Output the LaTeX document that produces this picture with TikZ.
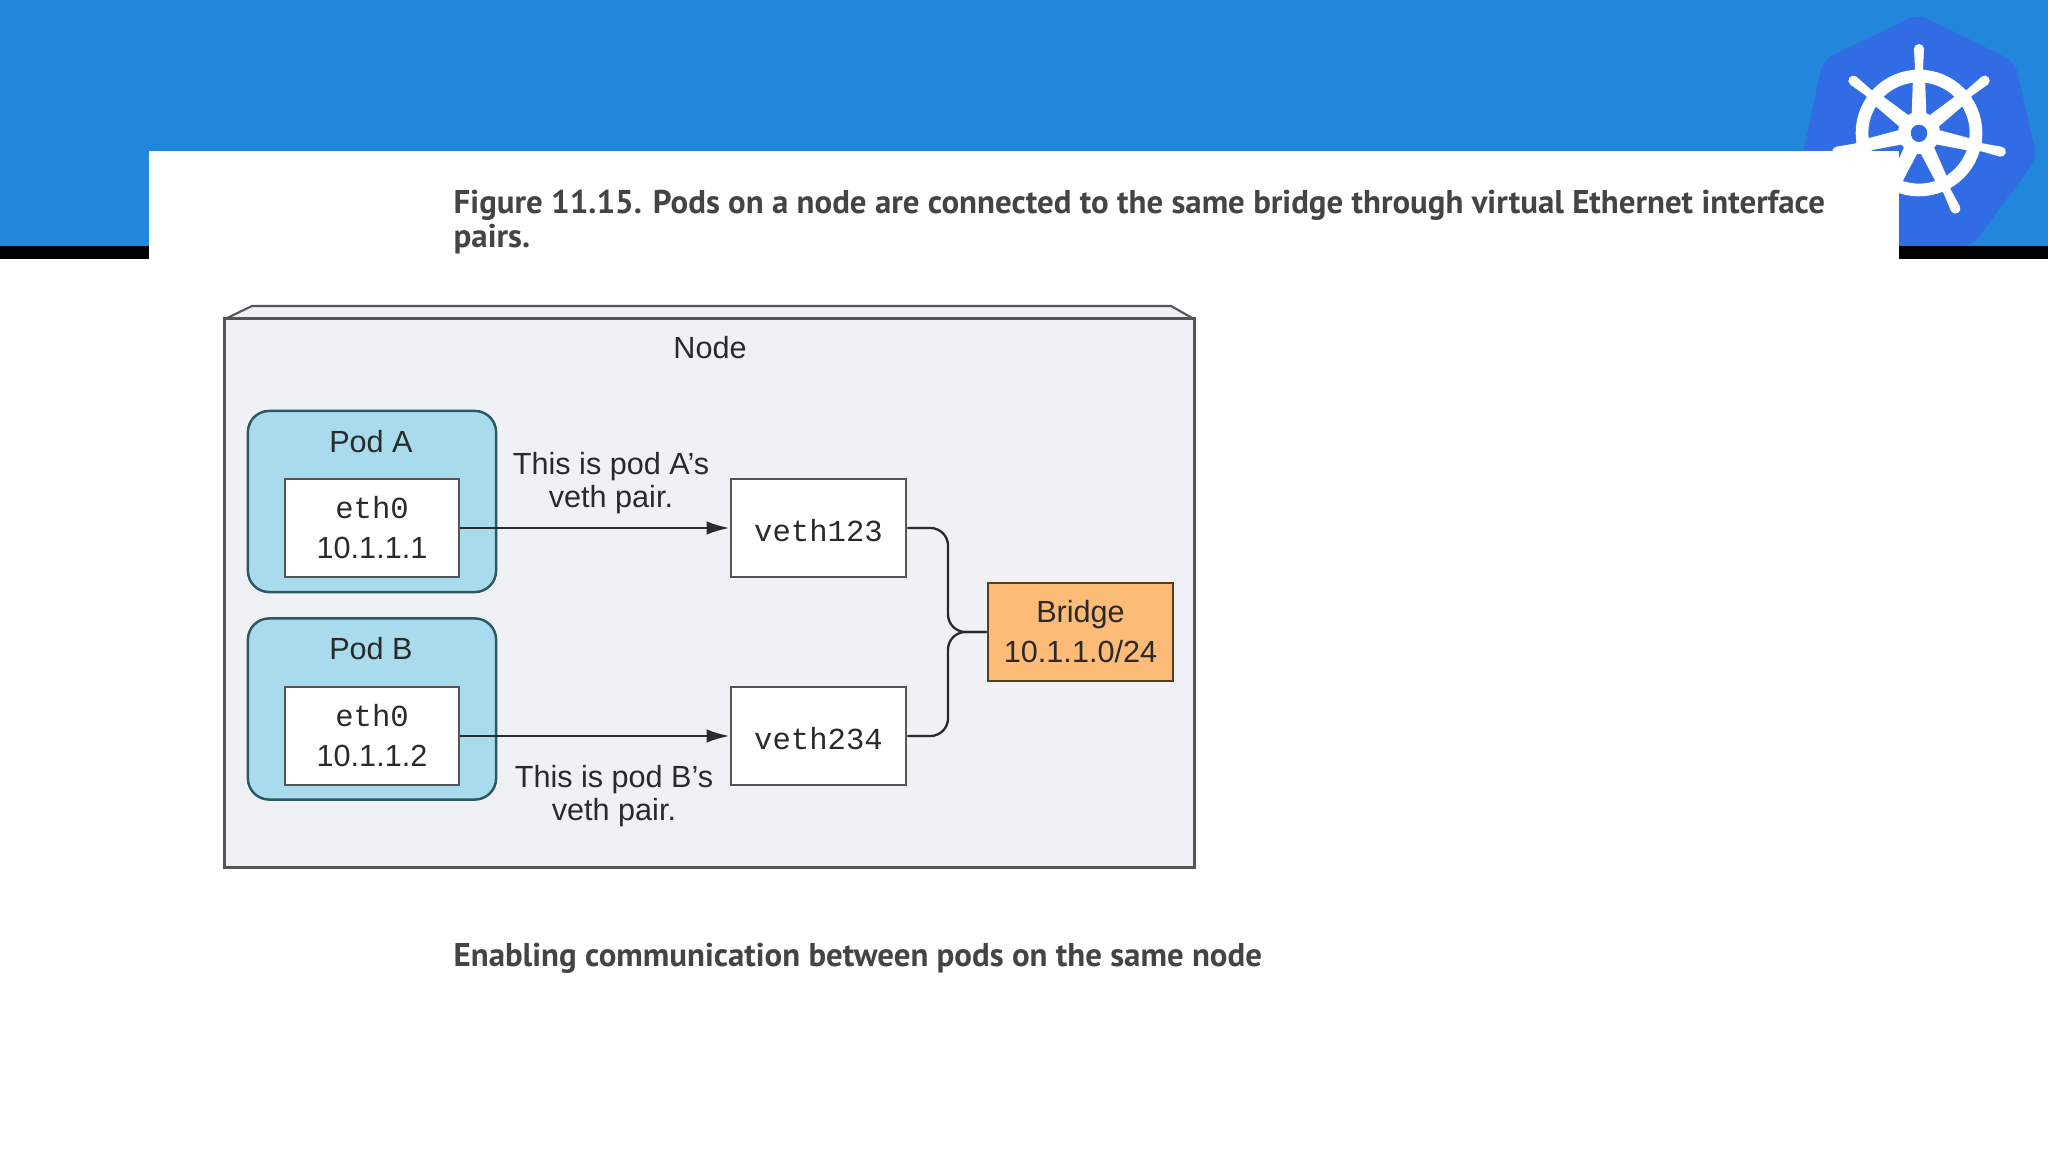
\documentclass[tikz,border=0pt]{standalone}
\usepackage{fontspec}
\setmainfont{Liberation Sans}
\setmonofont{Liberation Mono}
\newfontfamily\capfont{PT Sans}
\usetikzlibrary{arrows.meta}

\definecolor{bandblue}{HTML}{2186DC}
\definecolor{logoblue}{HTML}{326CE5}
\definecolor{nodefill}{HTML}{F0F1F5}
\definecolor{nodeline}{HTML}{555555}
\definecolor{podfill}{HTML}{A8DCEC}
\definecolor{podline}{HTML}{2F5666}
\definecolor{bridgefill}{HTML}{FDBB78}
\definecolor{bridgeline}{HTML}{5A3C20}
\definecolor{captext}{HTML}{444444}
\definecolor{figtext}{HTML}{2A2A2A}

\tikzset{
    figlabel/.style={font=\fontsize{8.7}{9.5}\selectfont, text=figtext, align=center, inner sep=0pt},
    caption/.style={font=\capfont\bfseries\fontsize{9.35}{10}\selectfont, text=captext, anchor=base west, inner sep=0pt},
    whitebox/.style={draw=nodeline, line width=0.8pt, fill=white, minimum width=1.74cm, minimum height=0.98cm,
        inner sep=0pt, align=center, text=figtext, font=\fontsize{8.7}{11.4}\selectfont},
    podbox/.style={draw=podline, line width=0.7pt, fill=podfill, rounded corners=6pt,
        minimum width=2.48cm, minimum height=1.81cm, inner sep=0pt},
    link/.style={draw=figtext, line width=0.65pt}
}

\begin{document}
\begin{tikzpicture}[x=0.01cm, y=-0.01cm]
    \useasboundingbox (0,0) rectangle (2048,1152);

    % Slide background
    \fill[white] (0,0) rectangle (2048,1152);
    \fill[bandblue] (0,0) rectangle (2048,246);

    % Logo
    \fill[logoblue, rounded corners=3pt] (1918,14) -- (2015,62) -- (2037,158) -- (1972,246)
        -- (1864,246) -- (1802,158) -- (1823,60) -- cycle;
    \draw[white, line width=3.6pt] (1919,133) circle (57);
    \foreach \k in {0,...,6} {
        \begin{scope}[shift={(1919,133)}, rotate=\k*360/7]
            \fill[white] (-8,0) -- (-6,-55) -- (-4,-65) -- (-5,-84) arc[start angle=180, end angle=360, radius=5]
                -- (4,-65) -- (6,-55) -- (8,0) -- cycle;
        \end{scope}
    }
    \fill[white] (1919,133) circle (21);
    \fill[logoblue, rounded corners=1pt] (1919,124) -- (1926,127) -- (1928,135) -- (1923,142)
        -- (1915,142) -- (1910,135) -- (1912,127) -- cycle;

    % Bar and panel
    \fill[black] (0,246) rectangle (2048,259);
    \fill[white] (149,151) rectangle (1899,300);

    % Captions
    \node[caption] (captop) at (453,214) {Figure 11.15. Pods on a node are connected to the same bridge through virtual Ethernet interface};
    \node[caption] (capsecond) at (453,248) {pairs.};
    \node[caption] (capbottom) at (453,966) {Enabling communication between pods on the same node};

    % Node box
    \fill[nodefill] (225,319) -- (252,306) -- (1171,306) -- (1194,319) -- cycle;
    \draw[nodeline, line width=0.6pt] (225,319) -- (252,306) -- (1171,306) -- (1194,319);
    \node[draw=nodeline, line width=0.8pt, fill=nodefill, minimum width=9.69cm, minimum height=5.48cm, inner sep=0pt] (nodebox) at (709.5,593) {};
    \node[figlabel] (nodename) at (710,348) {Node};

    % Bridge
    \node[whitebox, fill=bridgefill, draw=bridgeline, minimum width=1.85cm] (bridge) at (1080.5,632) {Bridge\\10.1.1.0/24};
    \coordinate (joint) at (948,632);

    % Pods: {letter}{pod centre}{box y}{address}{veth}
    \foreach \p/\pody/\boxy/\addr/\veth in {
        A/501.5/528/10.1.1.1/veth123,
        B/709/736/10.1.1.2/veth234} {
        \node[podbox] (pod\p) at (372,\pody) {};
        \node[figlabel] (name\p) at (371,\pody - 60) {Pod \p};
        \node[whitebox] (eth\p) at (372,\boxy) {\texttt{eth0}\\\addr};
        \node[whitebox, minimum width=1.75cm, font=\ttfamily\fontsize{8.7}{11.4}\selectfont] (veth\p) at (818.5,\boxy) {\rule{0pt}{7.8pt}\veth};
        \draw[link, -{Latex[length=6.5pt,width=3.8pt]}] (eth\p) -- (veth\p);
        \draw[link, rounded corners=5pt] (veth\p) -| (joint) -- (bridge);
    }

    % Pair labels
    \node[figlabel] (noteA) at (611,483) {This is pod A's\\veth pair.};
    \node[figlabel] (noteB) at (614,796) {This is pod B's\\veth pair.};
\end{tikzpicture}
\end{document}
